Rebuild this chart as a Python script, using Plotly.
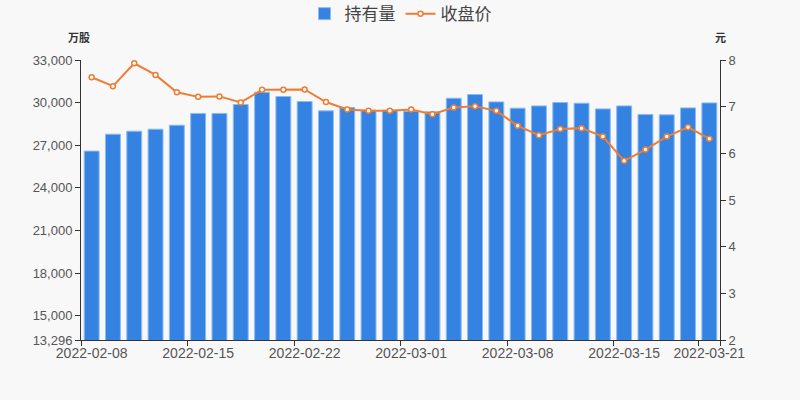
import plotly.graph_objects as go

dates = ["2022-02-08","2022-02-09","2022-02-10","2022-02-11","2022-02-14","2022-02-15","2022-02-16","2022-02-17","2022-02-18",
         "2022-02-21","2022-02-22","2022-02-23","2022-02-24","2022-02-25","2022-02-28","2022-03-01","2022-03-02","2022-03-03",
         "2022-03-04","2022-03-07","2022-03-08","2022-03-09","2022-03-10","2022-03-11","2022-03-14","2022-03-15","2022-03-16",
         "2022-03-17","2022-03-18","2022-03-21"]
holdings = [26590, 27780, 27990, 28130, 28410, 29240, 29240, 29870, 30730, 30430,
            30080, 29420, 29660, 29470, 29470, 29400, 29350, 30310, 30570, 30050,
            29610, 29770, 30010, 29960, 29560, 29770, 29170, 29140, 29630, 29980]
close_price = [7.63, 7.44, 7.93, 7.68, 7.31, 7.21, 7.22, 7.09, 7.36, 7.36,
               7.37, 7.10, 6.94, 6.91, 6.91, 6.94, 6.84, 6.98, 7.01, 6.91,
               6.59, 6.39, 6.52, 6.54, 6.36, 5.84, 6.08, 6.36, 6.56, 6.31]
left_ticks = [13296, 15000, 18000, 21000, 24000, 27000, 30000, 33000]
right_ticks = [2, 3, 4, 5, 6, 7, 8]
x_label_idx = [0, 5, 10, 15, 20, 25, 29]

font = "Liberation Sans, Noto Sans CJK SC, sans-serif"

fig = go.Figure()
fig.add_trace(go.Bar(
    x=dates, y=holdings, name="持有量",
    marker=dict(color="#3483e3", line=dict(color="#8dbbf2", width=1)),
))
fig.add_trace(go.Scatter(
    x=dates, y=close_price, name="收盘价", yaxis="y2", mode="lines+markers",
    line=dict(color="#ee7d33", width=2),
    marker=dict(color="#ffffff", size=5, line=dict(color="#ee7d33", width=1.5)),
))

fig.update_layout(
    width=800, height=400,
    paper_bgcolor="#f8f8f8", plot_bgcolor="#f8f8f8",
    margin=dict(l=81, r=80, t=60, b=60, autoexpand=False),
    font=dict(family=font, size=13, color="#555555"),
    bargap=0.3,
    showlegend=True,
    legend=dict(orientation="h", x=0.5, xanchor="center", y=1.164, yanchor="middle",
                yref="paper", font=dict(size=17, color="#444444"),
                bgcolor="rgba(0,0,0,0)", itemwidth=30),
    xaxis=dict(
        type="category",
        range=[-0.5, len(dates) - 0.5],
        tickmode="array",
        tickvals=[dates[i] for i in x_label_idx],
        ticktext=[dates[i] for i in x_label_idx],
        tickson="boundaries",
        ticks="outside", ticklen=5, tickcolor="#333333",
        showline=True, linecolor="#333333", linewidth=1,
        showgrid=False, zeroline=False,
        tickfont=dict(size=14, color="#555555"),
        tickangle=0,
    ),
    yaxis=dict(
        range=[13296, 33000],
        tickmode="array", tickvals=left_ticks,
        ticktext=[f"{v:,}" for v in left_ticks],
        ticks="outside", ticklen=5, tickcolor="#333333",
        showline=True, linecolor="#333333", linewidth=1,
        showgrid=False, zeroline=False,
        tickfont=dict(size=13, color="#555555"),
    ),
    yaxis2=dict(
        range=[2, 8], overlaying="y", side="right",
        tickmode="array", tickvals=right_ticks,
        ticks="outside", ticklen=5, tickcolor="#333333",
        showline=True, linecolor="#333333", linewidth=1,
        showgrid=False, zeroline=False,
        tickfont=dict(size=13, color="#555555"),
    ),
    annotations=[
        dict(text="<b>万股</b>", xref="paper", yref="paper", x=0.0, y=1.0,
             xanchor="center", yanchor="bottom", yshift=14, xshift=-2, showarrow=False,
             font=dict(size=11, color="#333333")),
        dict(text="<b>元</b>", xref="paper", yref="paper", x=1.0, y=1.0,
             xanchor="center", yanchor="bottom", yshift=14, showarrow=False,
             font=dict(size=11, color="#333333")),
    ],
)

fig.write_html("out.html")
